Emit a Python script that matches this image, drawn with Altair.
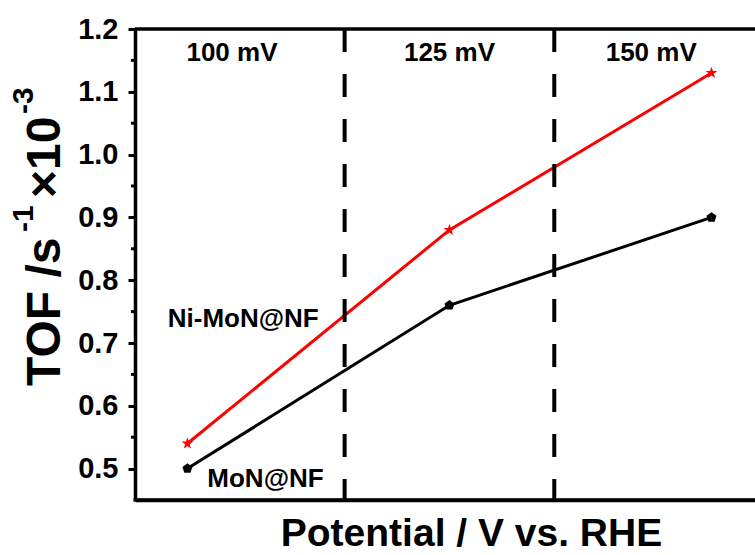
import altair as alt
import pandas as pd

FONT = "Liberation Sans"

# ---- data ----
points = [1, 2, 3]
ni_mon_nf = [0.54, 0.88, 1.13]
mon_nf = [0.50, 0.76, 0.90]
dividers = [1.6, 2.4]
region_labels = ["100 mV", "125 mV", "150 mV"]
region_x = [1.17, 2.0, 2.77]
region_y = [1.149, 1.149, 1.149]
series_labels = ["Ni-MoN@NF", "MoN@NF"]
series_label_x = [0.925, 1.076]
series_label_y = [0.726, 0.470]
y_major = [0.5, 0.6, 0.7, 0.8, 0.9, 1.0, 1.1, 1.2]
y_minor = [0.55, 0.65, 0.75, 0.85, 0.95, 1.05, 1.15]

W, H = 620, 471
xscale = alt.Scale(domain=[0.8, 3.166], nice=False, zero=False)
yscale = alt.Scale(domain=[0.45, 1.2], nice=False, zero=False)

XA = alt.Axis(
    labels=False, ticks=False, grid=False,
    domainColor="black", domainWidth=3.5,
    title="Potential / V vs. RHE", titleFont=FONT, titleFontSize=39,
    titleFontWeight="bold", titleColor="black",
    titleX=336, titleY=45, titleBaseline="alphabetic", titleAlign="center",
)
YA = alt.Axis(
    values=y_major, format=".1f", grid=False,
    domainColor="black", domainWidth=3.5,
    tickColor="black", tickWidth=3, tickSize=7,
    labelFont=FONT, labelFontSize=29, labelFontWeight="bold",
    labelColor="black", labelPadding=10, title="",
)
X = alt.X("x:Q", scale=xscale, axis=XA)
Y = alt.Y("y:Q", scale=yscale, axis=YA)

red_df = pd.DataFrame({"x": points, "y": ni_mon_nf})
blk_df = pd.DataFrame({"x": points, "y": mon_nf})

axes_layer = alt.Chart(pd.DataFrame({"x": [0.8, 3.166], "y": [0.45, 1.2]})).mark_point(
    opacity=0
).encode(x=X, y=Y)

red_line = alt.Chart(red_df).mark_line(color="#ff0000", strokeWidth=3).encode(x=X, y=Y)
blk_line = alt.Chart(blk_df).mark_line(color="black", strokeWidth=3).encode(x=X, y=Y)
star = ("M0,-1L0.235,-0.324L0.951,-0.309L0.38,0.124L0.588,0.809L0,0.4"
        "L-0.588,0.809L-0.38,0.124L-0.951,-0.309L-0.235,-0.324Z")
red_pts = alt.Chart(red_df).mark_point(
    shape=star, filled=True, color="#ff0000", size=150, opacity=1
).encode(x=X, y=Y)
pent = "M0,-1L0.951,-0.309L0.588,0.809L-0.588,0.809L-0.951,-0.309Z"
blk_pts = alt.Chart(blk_df).mark_point(
    shape=pent, filled=True, color="black", size=110, opacity=1
).encode(x=X, y=Y)

div_df = pd.DataFrame({"x": dividers})
div_rules = alt.Chart(div_df).mark_rule(
    color="black", strokeWidth=4, strokeDash=[23, 22]
).encode(x=X, y=alt.value(0), y2=alt.value(H))

one = pd.DataFrame({"a": [0]})
top_border = alt.Chart(one).mark_rule(color="black", strokeWidth=3.5).encode(
    x=alt.value(0), x2=alt.value(W), y=alt.value(0)
)
bottom_border = alt.Chart(one).mark_rule(color="black", strokeWidth=3.5).encode(
    x=alt.value(-1.5), x2=alt.value(W), y=alt.value(H)
)

minor_df = pd.DataFrame({"y": y_minor})
minor_ticks = alt.Chart(minor_df).mark_rule(color="black", strokeWidth=3).encode(
    y=Y, x=alt.value(-4), x2=alt.value(0)
)

reg_df = pd.DataFrame({"t": region_labels, "x": region_x, "y": region_y})
reg_text = alt.Chart(reg_df).mark_text(
    font=FONT, fontSize=26, fontWeight="bold", color="black",
    align="center", baseline="alphabetic",
).encode(x=X, y=Y, text="t:N")

ser_df = pd.DataFrame({"t": series_labels, "x": series_label_x, "y": series_label_y})
ser_text = alt.Chart(ser_df).mark_text(
    font=FONT, fontSize=26, fontWeight="bold", color="black",
    align="left", baseline="alphabetic",
).encode(x=X, y=Y, text="t:N")

def ytitle(txt, size, xpix, ypix):
    return alt.Chart(one).mark_text(
        text=txt, font=FONT, fontSize=size, fontWeight="bold", color="black",
        angle=270, align="left", baseline="alphabetic",
    ).encode(x=alt.value(xpix), y=alt.value(ypix))

yt1 = ytitle("TOF /s", 48, -75, 357)
yt2 = ytitle("-1", 30, -102, 203)
yt3 = ytitle("\u00d710", 48, -75, 169)
yt4 = ytitle("-3", 30, -102, 85)

chart = alt.layer(
    axes_layer, red_line, blk_line, div_rules, top_border, bottom_border, minor_ticks,
    red_pts, blk_pts, reg_text, ser_text, yt1, yt2, yt3, yt4,
).properties(
    width=W, height=H,
    autosize=alt.AutoSizeParams(type="none"),
    padding={"left": 135, "top": 29, "right": 0, "bottom": 55},
).configure_view(stroke=None).configure(background="white")

chart.save("out.html", embed_options={"renderer": "svg", "actions": False})
